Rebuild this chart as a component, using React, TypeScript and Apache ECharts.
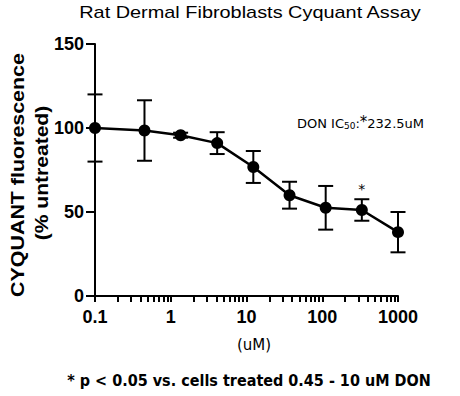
import React, { useEffect, useRef } from "react";
import * as echarts from "echarts";

const concentrations = [0.1, 0.45, 1.35, 4.1, 12.3, 37, 111, 333, 1000];
const meanValues = [100, 98.5, 95.7, 91, 76.8, 60, 52.5, 51.2, 38];
const errorValues = [20, 18, 1.5, 6.5, 9.5, 8, 13, 6.4, 12];
const significant = [false, false, false, false, false, false, false, true, false];
const xLabelValues = [0.1, 1, 10, 100, 1000];
const yTicks = [0, 50, 100, 150];
const titleText = "Rat Dermal Fibroblasts Cyquant Assay";
const yNameLine1 = "CYQUANT fluorescence";
const yNameLine2 = "(% untreated)";
const xName = "(uM)";
const footnote = "* p < 0.05 vs. cells treated 0.45 - 10 uM DON";

// tick positions for log axis: decades plus 2..9 within each decade
const xTickValues: number[] = [];
for (let d = -1; d < 3; d++) {
  for (let m = 1; m <= 9; m++) xTickValues.push(parseFloat((m * Math.pow(10, d)).toPrecision(6)));
}
xTickValues.push(1000);

export default function App() {
  const ref = useRef<HTMLDivElement>(null);
  useEffect(() => {
    if (!ref.current) return;
    const chart = echarts.init(ref.current, undefined, { renderer: "svg" });
    const labelFont = "'Liberation Sans', Arial, sans-serif";
    const verdana = "'DejaVu Sans', sans-serif";
    chart.setOption({
      animation: false,
      backgroundColor: "#ffffff",
      grid: { left: 95, right: 62, top: 44, bottom: 100, containLabel: false },
      xAxis: {
        type: "log",
        logBase: 10,
        min: 0.1,
        max: 1000,
        name: xName,
        nameLocation: "middle",
        nameGap: 41,
        nameTextStyle: { fontFamily: verdana, fontSize: 15, color: "#000", padding: [0, 0, 0, 15] },
        axisLine: { show: true, onZero: false, lineStyle: { color: "#000", width: 2 } },
        axisTick: { show: true, length: 6, customValues: xTickValues, lineStyle: { color: "#000", width: 2 } },
        minorTick: { show: false },
        splitLine: { show: false },
        axisLabel: {
          fontFamily: labelFont,
          fontWeight: "bold",
          fontSize: 18,
          color: "#000",
          margin: 12,
          customValues: xLabelValues,
          formatter: (v: number) => String(v),
        },
      },
      yAxis: {
        type: "value",
        min: 0,
        max: 150,
        interval: 50,
        axisLine: { show: true, lineStyle: { color: "#000", width: 2 } },
        axisTick: { show: true, length: 9, lineStyle: { color: "#000", width: 2 } },
        splitLine: { show: false },
        axisLabel: {
          fontFamily: labelFont,
          fontWeight: "bold",
          fontSize: 18,
          color: "#000",
          margin: 11,
          formatter: (v: number) => (yTicks.includes(v) ? String(v) : ""),
        },
      },
      graphic: [
        {
          type: "text",
          x: 250,
          y: 12,
          scaleX: 1.17,
          style: {
            text: titleText,
            fontFamily: labelFont,
            fontSize: 17,
            fill: "#000",
            textAlign: "center",
            textVerticalAlign: "middle",
          },
        },
        {
          type: "text",
          x: 18,
          y: 175,
          rotation: Math.PI / 2,
          scaleX: 1.19,
          style: {
            text: yNameLine1,
            fontFamily: labelFont,
            fontWeight: "bold",
            fontSize: 18,
            fill: "#000",
            textAlign: "center",
            textVerticalAlign: "middle",
          },
        },
        {
          type: "text",
          x: 42,
          y: 173,
          rotation: Math.PI / 2,
          scaleX: 1.17,
          style: {
            text: yNameLine2,
            fontFamily: labelFont,
            fontWeight: "bold",
            fontSize: 18,
            fill: "#000",
            textAlign: "center",
            textVerticalAlign: "middle",
          },
        },
        {
          type: "text",
          x: 297,
          y: 123,
          style: {
            text: "{a|DON IC}{b|50}{a|:}{c|*}{a|232.5uM}",
            textVerticalAlign: "middle",
            rich: {
              a: { fontFamily: verdana, fontSize: 13, fill: "#000", color: "#000" },
              b: { fontFamily: verdana, fontSize: 9, fill: "#000", color: "#000", padding: [5, 0, 0, 0] },
              c: { fontFamily: verdana, fontSize: 15, fill: "#000", color: "#000", padding: [0, 0, 3, 0] },
            },
          },
        },
        {
          type: "text",
          x: 249,
          y: 381,
          scaleX: 0.9,
          style: {
            text: footnote,
            fontFamily: verdana,
            fontWeight: "bold",
            fontSize: 16,
            fill: "#000",
            textAlign: "center",
            textVerticalAlign: "middle",
          },
        },
      ],
      series: [
        {
          type: "line",
          data: concentrations.map((c, i) => [c, meanValues[i]]),
          symbol: "circle",
          symbolSize: 12,
          lineStyle: { color: "#000", width: 2.5 },
          itemStyle: { color: "#000" },
          z: 3,
        },
        {
          type: "custom",
          name: "errors",
          data: concentrations.map((c, i) => [c, meanValues[i], errorValues[i], significant[i] ? 1 : 0]),
          renderItem: (params: any, api: any) => {
            const x = api.value(0);
            const m = api.value(1);
            const e = api.value(2);
            const top = api.coord([x, m + e]);
            const bot = api.coord([x, m - e]);
            const hw = 7.5;
            const children: any[] = [
              { type: "line", shape: { x1: top[0], y1: top[1], x2: bot[0], y2: bot[1] }, style: { stroke: "#000", lineWidth: 2 } },
              { type: "line", shape: { x1: top[0] - hw, y1: top[1], x2: top[0] + hw, y2: top[1] }, style: { stroke: "#000", lineWidth: 2 } },
              { type: "line", shape: { x1: bot[0] - hw, y1: bot[1], x2: bot[0] + hw, y2: bot[1] }, style: { stroke: "#000", lineWidth: 2 } },
            ];
            if (api.value(3) === 1) {
              children.push({
                type: "text",
                x: top[0],
                y: top[1] - 3,
                style: {
                  text: "*",
                  fontFamily: verdana,
                  fontSize: 14,
                  fill: "#000",
                  textAlign: "center",
                  textVerticalAlign: "bottom",
                },
              });
            }
            return { type: "group", children };
          },
          clip: false,
          z: 2,
        },
      ],
    });
    return () => chart.dispose();
  }, []);
  return <div ref={ref} style={{ width: 460, height: 396, position: "absolute", left: 0, top: 0 }} />;
}
